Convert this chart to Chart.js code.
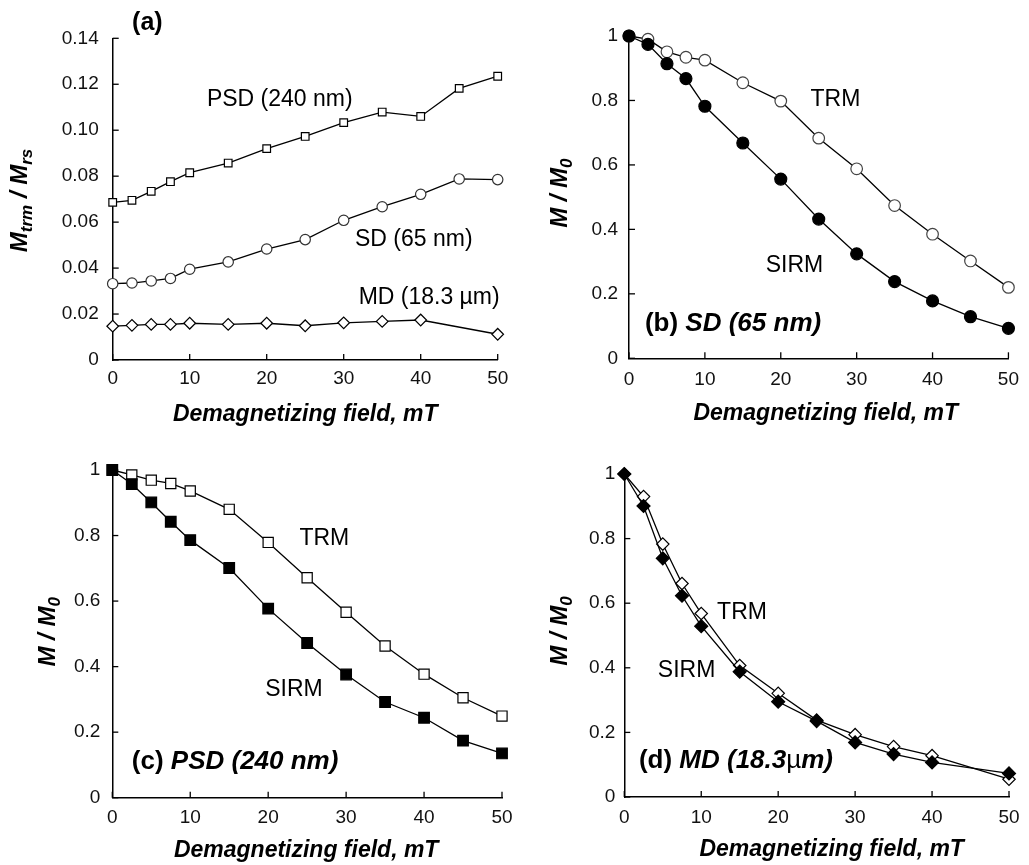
<!DOCTYPE html>
<html><head><meta charset="utf-8">
<script src="https://cdn.jsdelivr.net/npm/chart.js@4.4.1/dist/chart.umd.min.js"></script>
<style>
html,body{margin:0;padding:0;background:#fff;}
#wrap{position:relative;width:1029px;height:865px;overflow:hidden;background:#fff;}
canvas{position:absolute;left:0;top:0;}
</style></head><body>
<div id="wrap">
<canvas id="ca" width="1029" height="865"></canvas>
<canvas id="cb" width="1029" height="865"></canvas>
<canvas id="cc" width="1029" height="865"></canvas>
<canvas id="cd" width="1029" height="865"></canvas>
</div>
<script>
// ---------- data ----------
const field = [0, 2.5, 5, 7.5, 10, 15, 20, 25, 30, 35, 40, 45, 50];
const fieldMD = [0, 2.5, 5, 7.5, 10, 15, 20, 25, 30, 35, 40, 50];

// (a) Mtrm / Mrs
const psdRatio = [0.0686, 0.0695, 0.0734, 0.0776, 0.0815, 0.0857, 0.0920, 0.0973, 0.1033, 0.1079, 0.1060, 0.1182, 0.1235];
const sdRatio  = [0.0332, 0.0335, 0.0344, 0.0355, 0.0395, 0.0427, 0.0483, 0.0524, 0.0608, 0.0667, 0.0721, 0.0788, 0.0785];
const mdRatio  = [0.0147, 0.0151, 0.0155, 0.0155, 0.0160, 0.0155, 0.0160, 0.0149, 0.0162, 0.0168, 0.0174, 0.0112];

// (b) SD (65 nm)
const sdTRM  = [1.000, 0.990, 0.951, 0.934, 0.925, 0.855, 0.798, 0.683, 0.588, 0.474, 0.385, 0.302, 0.220];
const sdSIRM = [1.000, 0.974, 0.914, 0.868, 0.782, 0.668, 0.556, 0.432, 0.324, 0.238, 0.178, 0.129, 0.093];

// (c) PSD (240 nm)
const psdTRM  = [1.000, 0.985, 0.969, 0.959, 0.936, 0.880, 0.779, 0.671, 0.566, 0.463, 0.377, 0.305, 0.249];
const psdSIRM = [1.000, 0.957, 0.901, 0.842, 0.786, 0.701, 0.577, 0.472, 0.376, 0.292, 0.244, 0.174, 0.135];

// (d) MD (18.3 µm)
const mdTRM  = [1.000, 0.930, 0.783, 0.661, 0.568, 0.407, 0.321, 0.238, 0.193, 0.156, 0.128, 0.055];
const mdSIRM = [1.000, 0.901, 0.739, 0.623, 0.529, 0.388, 0.295, 0.235, 0.169, 0.133, 0.107, 0.073];

// ticks
const xTickValues = [0, 10, 20, 30, 40, 50];
const xTickLabels = ['0', '10', '20', '30', '40', '50'];
const yTickValuesA = [0, 0.02, 0.04, 0.06, 0.08, 0.10, 0.12, 0.14];
const yTickLabelsA = ['0', '0.02', '0.04', '0.06', '0.08', '0.10', '0.12', '0.14'];
const yTickValuesM = [0, 0.2, 0.4, 0.6, 0.8, 1];
const yTickLabelsM = ['0', '0.2', '0.4', '0.6', '0.8', '1'];

const xTitleText = 'Demagnetizing field, mT';

// ---------- helpers ----------
const FF = '"Liberation Sans", Arial, Helvetica, sans-serif';
const f = (style, size) => style + ' ' + size + 'px ' + FF;

function pts(xs, ys) { return xs.map((x, i) => ({x: x, y: ys[i]})); }

function drawParts(ctx, parts, x, y, align) {
  let w = 0;
  parts.forEach(p => { ctx.font = p.font; w += ctx.measureText(p.text).width; });
  let cx = align === 'center' ? x - w / 2 : x;
  parts.forEach(p => {
    ctx.font = p.font;
    ctx.fillText(p.text, cx, y + (p.dy || 0));
    cx += ctx.measureText(p.text).width;
  });
}

const decor = {
  id: 'decor',
  beforeDatasetsDraw(chart, args, o) {
    const {ctx, chartArea: ca, scales: {x, y}} = chart;
    ctx.save();
    ctx.strokeStyle = '#000';
    ctx.lineWidth = 1.3;
    x.ticks.forEach(t => {
      const p = x.getPixelForValue(t.value);
      ctx.beginPath(); ctx.moveTo(p, ca.bottom); ctx.lineTo(p, ca.bottom - o.tickLen); ctx.stroke();
    });
    y.ticks.forEach(t => {
      const p = y.getPixelForValue(t.value);
      ctx.beginPath(); ctx.moveTo(ca.left, p); ctx.lineTo(ca.left + o.tickLen, p); ctx.stroke();
    });
    ctx.restore();
  },
  afterDraw(chart, args, o) {
    const {ctx, chartArea: ca, scales: {x, y}} = chart;
    ctx.save();
    ctx.fillStyle = '#000';
    ctx.textAlign = 'left';
    // x-axis title
    ctx.textBaseline = 'middle';
    drawParts(ctx, [{text: xTitleText, font: f('italic bold', o.xTitleSize)}],
      (ca.left + ca.right) / 2 + o.xTitleDx, ca.bottom + o.xTitleDy, 'center');
    // y-axis title (rotated, with subscripts)
    ctx.save();
    ctx.translate(ca.left + o.yTitleDx, (ca.top + ca.bottom) / 2 + o.yTitleDy);
    ctx.rotate(-Math.PI / 2);
    ctx.textBaseline = 'alphabetic';
    drawParts(ctx, o.yTitleParts, 0, 0, 'center');
    ctx.restore();
    // in-plot labels (placed in data coordinates)
    ctx.textBaseline = 'middle';
    o.labels.forEach(l => {
      drawParts(ctx, l.parts, x.getPixelForValue(l.x), y.getPixelForValue(l.y), l.align);
    });
    ctx.restore();
  }
};

function lineDS(label, data, style, radius, filled, borderCol) {
  return {
    label: label,
    data: data,
    borderColor: '#000',
    borderWidth: 1.3,
    tension: 0,
    fill: false,
    clip: false,
    pointStyle: style,
    pointRadius: radius,
    pointBorderWidth: 1.2,
    pointBorderColor: borderCol || '#000',
    pointBackgroundColor: filled ? '#000' : '#fff'
  };
}

function makeChart(id, area, yVals, yLabels, yMax, yPad, xPad, datasets, decorOpts) {
  const W = 70, H = 40;
  const opts = {
    responsive: false,
    animation: false,
    events: [],
    layout: {
      autoPadding: false,
      padding: {
        left: area.left - W,
        right: 1029 - area.right,
        top: area.top,
        bottom: 865 - area.bottom - H
      }
    },
    plugins: { legend: {display: false}, tooltip: {enabled: false}, decor: decorOpts },
    scales: {
      x: {
        type: 'linear', min: 0, max: 50,
        afterFit: s => { s.height = H; },
        afterBuildTicks: s => { s.ticks = xTickValues.map(v => ({value: v})); },
        grid: {display: false, drawTicks: false},
        border: {display: true, color: '#000', width: 1.5},
        ticks: {
          autoSkip: false, maxRotation: 0, padding: xPad, color: '#111',
          font: {family: FF, size: 19},
          callback: (v, i) => xTickLabels[i]
        }
      },
      y: {
        type: 'linear', min: 0, max: yMax,
        afterFit: s => { s.width = W; },
        afterBuildTicks: s => { s.ticks = yVals.map(v => ({value: v})); },
        grid: {display: false, drawTicks: false},
        border: {display: true, color: '#000', width: 1.5},
        ticks: {
          autoSkip: false, padding: yPad, color: '#111',
          font: {family: FF, size: 19},
          callback: (v, i) => yLabels[i]
        }
      }
    }
  };
  return new Chart(document.getElementById(id), {
    type: 'line',
    data: {datasets: datasets},
    options: opts,
    plugins: [decor]
  });
}

const ANN = 23;
const PL = 26;
const yM0 = [
  {text: 'M', font: f('italic bold', 24)},
  {text: ' / ', font: f('italic bold', 24)},
  {text: 'M', font: f('italic bold', 24)},
  {text: '0', font: f('italic bold', 17), dy: 5}
];

// (a)
makeChart('ca', {left: 112.7, right: 497.7, top: 38.3, bottom: 360},
  yTickValuesA, yTickLabelsA, 0.14, 14, 7,
  [
    lineDS('PSD (240 nm)', pts(field, psdRatio), 'rect', 5.4, false),
    lineDS('SD (65 nm)', pts(field, sdRatio), 'circle', 5.2, false, '#333'),
    lineDS('MD (18.3 µm)', pts(fieldMD, mdRatio), 'rectRot', 5.8, false)
  ],
  {
    tickLen: 6, xTitleSize: 23, xTitleDx: 0, xTitleDy: 55,
    yTitleDx: -85.7, yTitleDy: 1.3,
    yTitleParts: [
      {text: 'M', font: f('italic bold', 24)},
      {text: 'trm', font: f('italic bold', 17), dy: 5},
      {text: ' / ', font: f('italic bold', 24)},
      {text: 'M', font: f('italic bold', 24)},
      {text: 'rs', font: f('italic bold', 17), dy: 5}
    ],
    labels: [
      {x: 4.5, y: 0.1468, align: 'center', parts: [{text: '(a)', font: f('bold', 25)}]},
      {x: 21.7, y: 0.1131, align: 'center', parts: [{text: 'PSD (240 nm)', font: f('normal', ANN)}]},
      {x: 39.1, y: 0.0522, align: 'center', parts: [{text: 'SD (65 nm)', font: f('normal', ANN)}]},
      {x: 41.1, y: 0.0270, align: 'center', parts: [{text: 'MD (18.3 µm)', font: f('normal', ANN)}]}
    ]
  });

// (b)
makeChart('cb', {left: 629, right: 1012.7, top: 36, bottom: 358.3},
  yTickValuesM, yTickLabelsM, 1, 11, 10,
  [
    lineDS('SIRM', pts(field, sdSIRM), 'circle', 6, true),
    lineDS('TRM', pts(field, sdTRM), 'circle', 5.8, false, '#444')
  ],
  {
    tickLen: 6, xTitleSize: 23, xTitleDx: 7, xTitleDy: 55.5,
    yTitleDx: -62, yTitleDy: -4, yTitleParts: yM0,
    labels: [
      {x: 27.2, y: 0.801, align: 'center', parts: [{text: 'TRM', font: f('normal', ANN)}]},
      {x: 21.8, y: 0.286, align: 'center', parts: [{text: 'SIRM', font: f('normal', ANN)}]},
      {x: 2.1, y: 0.106, align: 'left', parts: [
        {text: '(b) ', font: f('bold', PL)},
        {text: 'SD (65 nm)', font: f('italic bold', PL)}
      ]}
    ]
  });

// (c)
makeChart('cc', {left: 112.3, right: 502, top: 470, bottom: 797.7},
  yTickValuesM, yTickLabelsM, 1, 12, 9,
  [
    lineDS('SIRM', pts(field, psdSIRM), 'rect', 7.5, true),
    lineDS('TRM', pts(field, psdTRM), 'rect', 7.2, false)
  ],
  {
    tickLen: 6, xTitleSize: 23, xTitleDx: -1, xTitleDy: 53,
    yTitleDx: -57.3, yTitleDy: -2, yTitleParts: yM0,
    labels: [
      {x: 27.2, y: 0.792, align: 'center', parts: [{text: 'TRM', font: f('normal', ANN)}]},
      {x: 23.3, y: 0.329, align: 'center', parts: [{text: 'SIRM', font: f('normal', ANN)}]},
      {x: 2.5, y: 0.108, align: 'left', parts: [
        {text: '(c) ', font: f('bold', PL)},
        {text: 'PSD (240 nm)', font: f('italic bold', PL)}
      ]}
    ]
  });

// (d)
makeChart('cd', {left: 624.3, right: 1009, top: 474, bottom: 797},
  yTickValuesM, yTickLabelsM, 1, 9, 9,
  [
    lineDS('SIRM', pts(fieldMD, mdSIRM), 'rectRot', 6.5, true),
    lineDS('TRM', pts(fieldMD, mdTRM), 'rectRot', 6.2, false)
  ],
  {
    tickLen: 6, xTitleSize: 23, xTitleDx: 15, xTitleDy: 53,
    yTitleDx: -57.3, yTitleDy: -4.5, yTitleParts: yM0,
    labels: [
      {x: 15.3, y: 0.571, align: 'center', parts: [{text: 'TRM', font: f('normal', ANN)}]},
      {x: 8.1, y: 0.390, align: 'center', parts: [{text: 'SIRM', font: f('normal', ANN)}]},
      {x: 1.9, y: 0.112, align: 'left', parts: [
        {text: '(d) ', font: f('bold', PL)},
        {text: 'MD (18.3', font: f('italic bold', PL)},
        {text: 'µ', font: f('normal', PL)},
        {text: 'm)', font: f('italic bold', PL)}
      ]}
    ]
  });
</script>
</body></html>
